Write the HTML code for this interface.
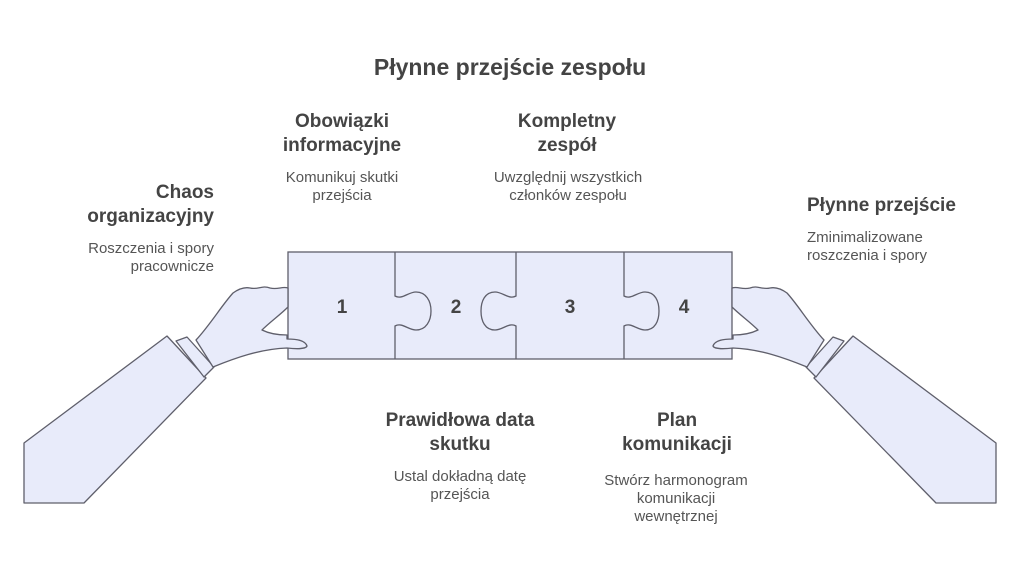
<!DOCTYPE html>
<html><head><meta charset="utf-8"><style>
html,body{margin:0;padding:0;background:#fff;}
body{width:1020px;height:576px;overflow:hidden;}
svg text{font-family:"Liberation Sans",sans-serif;fill:#444;}
.h{font-size:19px;font-weight:bold;}
.d{font-size:15px;fill:#555;}
</style></head><body>
<svg width="1020" height="576" viewBox="0 0 1020 576" xmlns="http://www.w3.org/2000/svg">
<g fill="#e8ebfa" stroke="#5f5f6b" stroke-width="1.3">
<rect x="288" y="252" width="444" height="107"/>
<path fill="none" d="M395,252 V296 C402,300 408,292 416,292 C426,292 431,301 431,311 C431,321 426,330 416,330 C408,330 402,322 395,326 V359"/>
<path fill="none" d="M516,252 V296 C509,300 503,292 495,292 C485,292 481,301 481,311 C481,321 485,330 495,330 C503,330 509,322 516,326 V359"/>
<path fill="none" d="M624,252 V296 C631,300 637,292 645,292 C655,292 659,301 659,311 C659,321 655,330 645,330 C637,330 631,322 624,326 V359"/>
</g>
<g id="arm" fill="#e8ebfa" stroke="#5f5f6b" stroke-width="1.3" stroke-linejoin="round">
<path d="M167,336 L206,378 L84,503 L24,503 L24,443 Z"/>
<path d="M176,341 L187,337 L214,367 L204,377 Z"/>
<path d="M196,340 C210,325 222,305 233,293 C240,288 245,287 250,288 C258,290 262,285 270,288 C278,290 282,286 288,288 L288,307 C280,315 270,322 262,330 C270,334 280,335 287,335 L287,339 C296,339 305,340 307,346 C306,349 296,349 287,348 C260,349 235,358 213,367 Z"/>
</g>
<use href="#arm" transform="translate(1020,0) scale(-1,1)"/>
<g text-anchor="middle">
<text x="342" y="313" class="h">1</text>
<text x="456" y="313" class="h">2</text>
<text x="570" y="313" class="h">3</text>
<text x="684" y="313" class="h">4</text>
</g>
<text x="510" y="75" text-anchor="middle" style="font-size:23px;font-weight:bold">Płynne przejście zespołu</text>
<text class="h" text-anchor="middle"><tspan x="342" y="127">Obowiązki</tspan><tspan x="342" y="151">informacyjne</tspan></text>
<text class="d" text-anchor="middle"><tspan x="342" y="182">Komunikuj skutki</tspan><tspan x="342" y="200">przejścia</tspan></text>
<text class="h" text-anchor="middle"><tspan x="567" y="127">Kompletny</tspan><tspan x="567" y="151">zespół</tspan></text>
<text class="d" text-anchor="middle"><tspan x="568" y="182">Uwzględnij wszystkich</tspan><tspan x="568" y="200">członków zespołu</tspan></text>
<text class="h" text-anchor="end"><tspan x="214" y="198">Chaos</tspan><tspan x="214" y="222">organizacyjny</tspan></text>
<text class="d" text-anchor="end"><tspan x="214" y="253">Roszczenia i spory</tspan><tspan x="214" y="271">pracownicze</tspan></text>
<text class="h"><tspan x="807" y="211">Płynne przejście</tspan></text>
<text class="d"><tspan x="807" y="242">Zminimalizowane</tspan><tspan x="807" y="260">roszczenia i spory</tspan></text>
<text class="h" text-anchor="middle"><tspan x="460" y="426">Prawidłowa data</tspan><tspan x="460" y="450">skutku</tspan></text>
<text class="d" text-anchor="middle"><tspan x="460" y="481">Ustal dokładną datę</tspan><tspan x="460" y="499">przejścia</tspan></text>
<text class="h" text-anchor="middle"><tspan x="677" y="426">Plan</tspan><tspan x="677" y="450">komunikacji</tspan></text>
<text class="d" text-anchor="middle"><tspan x="676" y="485">Stwórz harmonogram</tspan><tspan x="676" y="503">komunikacji</tspan><tspan x="676" y="521">wewnętrznej</tspan></text>
</svg>
</body></html>
